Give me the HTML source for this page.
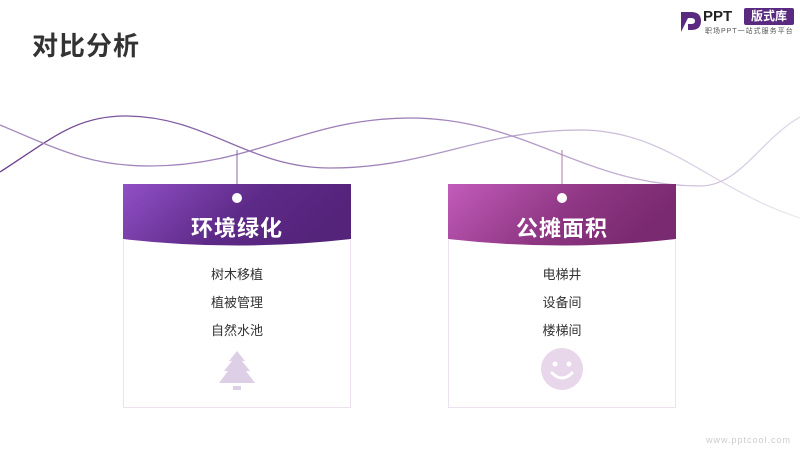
<!DOCTYPE html>
<html><head><meta charset="utf-8"><style>
body{margin:0;width:800px;height:450px;background:#fff;position:relative;overflow:hidden;font-family:"Liberation Sans","Noto Sans CJK SC",sans-serif}
.t{position:absolute;left:32px;top:26px;font-size:26px;font-weight:bold;color:#333;letter-spacing:1px}
.card{position:absolute;top:184px;width:228px;height:224px}
.body{position:absolute;left:0;top:56px;width:226px;height:167px;border:1px solid #ece2ef;border-top:none}
.items{position:absolute;top:77px;width:100%;text-align:center;font-size:13px;color:#333;line-height:28px}
.title{position:absolute;top:27px;width:100%;text-align:center;color:#fff;font-size:22px;font-weight:bold;letter-spacing:1px}
</style></head><body>
<div class="t">对比分析</div>
<svg width="800" height="450" style="position:absolute;left:0;top:0">
<defs>
<linearGradient id="la" x1="0" x2="1"><stop offset="0" stop-color="#6a3a90"/><stop offset=".5" stop-color="#a58cbd"/><stop offset="1" stop-color="#eee8f2"/></linearGradient>
<linearGradient id="lb" x1="0" x2="1"><stop offset="0" stop-color="#a58cbd"/><stop offset=".5" stop-color="#9a7ab5"/><stop offset="1" stop-color="#e2d9ea"/></linearGradient>
<linearGradient id="g1" x1="0" y1="0" x2="1" y2=".3"><stop offset="0" stop-color="#9150c6"/><stop offset=".6" stop-color="#5e2a88"/><stop offset="1" stop-color="#54237a"/></linearGradient>
<linearGradient id="g2" x1="0" y1="0" x2="1" y2=".3"><stop offset="0" stop-color="#c35cbb"/><stop offset=".6" stop-color="#8e3683"/><stop offset="1" stop-color="#7a2a70"/></linearGradient>
</defs>
<path d="M0,172 C50,140 75,116 125,116 C207,116 248,168 330,168 C430,168 480,130 580,130 C668,130 712,190 800,218" fill="none" stroke="url(#la)" stroke-width="1.3"/>
<path d="M0,125 C60,150 90,166 150,166 C254,166 306,118 410,118 C526,118 584,186 700,186 C740,186 760,140 800,117" fill="none" stroke="url(#lb)" stroke-width="1.3"/>
<line x1="237" y1="150" x2="237" y2="184" stroke="#8a68a8" stroke-width="1"/>
<line x1="562" y1="150" x2="562" y2="184" stroke="#b07aae" stroke-width="1"/>
<path d="M123,184 H351 V239 Q237,252 123,239 Z" fill="url(#g1)"/>
<path d="M448,184 H676 V239 Q562,252 448,239 Z" fill="url(#g2)"/>
<circle cx="237" cy="198" r="5" fill="#fff"/>
<circle cx="562" cy="198" r="5" fill="#fff"/>
<g fill="#dccfe6">
<polygon points="237,351 229,361 232,361 224,371 228,371 219,383 255,383 246,371 250,371 242,361 245,361"/>
<rect x="233" y="386" width="8" height="4"/>
</g>
<circle cx="562" cy="369" r="21" fill="#e8d6ea"/>
<circle cx="555" cy="364" r="2.5" fill="#fff"/><circle cx="569" cy="364" r="2.5" fill="#fff"/>
<path d="M552,373 Q562,383 572,373" stroke="#fff" stroke-width="3" fill="none" stroke-linecap="round"/>
<path d="M681,12 H691 Q701,12 701,21 Q701,30 691,30 H688 V24 H691 Q695,24 695,21 Q695,18 691,18 H688 L681,32 Z" fill="#5a2a80"/>
</svg>
<div style="position:absolute;left:703px;top:8px;font-size:15px;font-weight:bold;color:#222">PPT</div>
<div style="position:absolute;left:744px;top:8px;width:50px;height:17px;background:#5a2a80;color:#fff;font-size:12px;font-weight:bold;text-align:center;line-height:17px;border-radius:2px">版式库</div>
<div style="position:absolute;left:705px;top:26px;font-size:7px;color:#555;letter-spacing:1px">职场PPT一站式服务平台</div>
<div class="card" style="left:123px"><div class="body"></div><div class="title">环境绿化</div>
<div class="items">树木移植<br>植被管理<br>自然水池</div></div>
<div class="card" style="left:448px"><div class="body"></div><div class="title">公摊面积</div>
<div class="items">电梯井<br>设备间<br>楼梯间</div></div>
<div style="position:absolute;left:706px;top:435px;font-size:9px;color:#ccc;letter-spacing:1px">www.pptcool.com</div>
</body></html>
